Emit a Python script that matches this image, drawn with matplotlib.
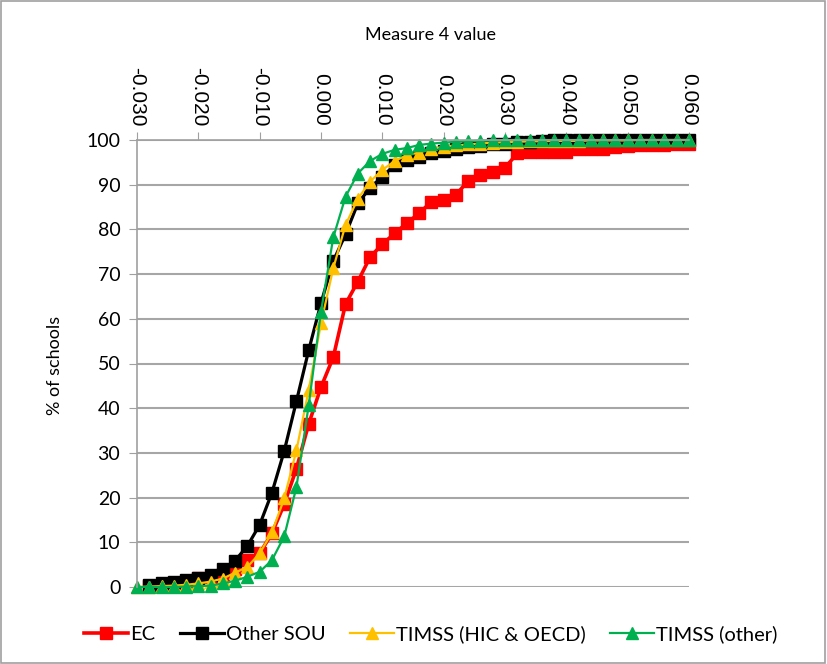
import numpy as np
import matplotlib
matplotlib.use("Agg")
import matplotlib.pyplot as plt
from matplotlib.patches import Rectangle

# x positions: measure 4 value, step 0.002
measure = np.round(np.arange(-0.030, 0.0601, 0.002), 3)

ec = [np.nan, 0.3, 0.5, 0.8, 1.2, 2.0, 2.3, 3.0, 4.0, 6.0,
      7.5, 12.0, 18.5, 26.5, 36.5, 44.7, 51.4, 63.3, 68.3, 73.8,
      76.7, 79.1, 81.4, 83.6, 86.2, 86.6, 87.7, 90.9, 92.2, 92.9,
      93.8, 97.0, 97.4, 97.4, 97.4, 97.4, 97.9, 97.9, 97.9, 98.4,
      98.6, 98.8, 98.8, 98.8, 99.0, 99.0]
other_sou = [np.nan, 0.5, 0.8, 1.2, 1.5, 2.0, 2.7, 4.0, 5.9, 9.2,
             13.9, 21.1, 30.4, 41.6, 53.0, 63.5, 72.9, 78.9, 85.8, 89.3,
             91.8, 94.4, 95.5, 96.3, 97.0, 97.5, 98.0, 98.4, 98.7, 99.0,
             99.2, 99.5, 99.6, 99.8, 100, 100, 100, 100, 100, 100,
             100, 100, 100, 100, 100, 100]
timss_hic = [0.0, 0.1, 0.2, 0.3, 0.5, 0.8, 1.2, 1.9, 3.2, 4.5,
             7.5, 12.2, 19.8, 30.6, 44.1, 59.0, 71.3, 81.0, 86.8, 90.7,
             93.3, 95.3, 96.6, 97.2, 98.0, 98.5, 98.8, 99.0, 99.2, 99.4,
             99.5, 99.6, 99.7, 99.7, 99.8, 99.8, 99.8, 99.9, 99.9, 99.9,
             99.9, 100, 100, 100, 100, 100]
timss_other = [0.0, 0.0, 0.0, 0.0, 0.1, 0.2, 0.3, 0.8, 1.4, 2.3,
               3.4, 6.0, 11.3, 22.4, 40.7, 61.6, 78.2, 87.3, 92.5, 95.3,
               96.9, 97.8, 98.2, 98.9, 99.2, 99.4, 99.6, 99.7, 99.8, 99.9,
               100, 100, 100, 100, 100, 100, 100, 100, 100, 100,
               100, 100, 100, 100, 100, 100]

plt.rcParams['font.family'] = ['Lato', 'DejaVu Sans']

fig = plt.figure(figsize=(8.27, 6.64), dpi=100)
ax = fig.add_axes([137/827, 1-587/664, (689-137)/827, (587-140)/664])

ax.plot(measure, ec, color='#FF0000', lw=2.6, marker='s', ms=9, label='EC', clip_on=False)
ax.plot(measure, other_sou, color='#000000', lw=2.3, marker='s', ms=9, label='Other SOU', clip_on=False)
ax.plot(measure, timss_hic, color='#FFC000', lw=1.6, marker='^', ms=9,
        label='TIMSS (HIC & OECD)', clip_on=False)
ax.plot(measure, timss_other, color='#00B050', lw=1.6, marker='^', ms=9,
        label='TIMSS (other)', clip_on=False)

ax.set_xlim(-0.030, 0.060)
ax.set_ylim(0, 100)
ax.set_yticks(range(0, 101, 10))
ax.set_xticks(np.round(np.arange(-0.030, 0.0601, 0.010), 3))
ax.set_xticklabels(['%.3f' % v for v in np.arange(-0.030, 0.0601, 0.010)],
                   rotation=-90, family='Liberation Sans', fontsize=15)
ax.xaxis.tick_top()
ax.xaxis.set_label_position('top')
ax.tick_params(axis='x', length=6, color='#a0a0a0', pad=4)
ax.tick_params(axis='y', length=6, color='#a0a0a0', labelsize=14, pad=6)
ax.grid(axis='y', color='#a6a6a6', lw=1.5)
ax.set_axisbelow(True)
for s in ['right', 'bottom']:
    ax.spines[s].set_visible(False)
for s in ['left', 'top']:
    ax.spines[s].set_color('#a0a0a0')
    ax.spines[s].set_linewidth(1.2)

fig.text(430/827, 1-35/664, 'Measure 4 value', ha='center', va='center', fontsize=13)
fig.text(55/827, 1-365/664, '% of schools', ha='center', va='center', rotation=90, fontsize=13)

fig.legend(loc='center', bbox_to_anchor=(431/827, 1-634/664), ncol=4, frameon=False,
           fontsize=14.5, handlelength=2.2, columnspacing=1.2, handletextpad=0.1)

fig.patches.append(Rectangle((0.001, 0.001), 0.997, 0.997, transform=fig.transFigure,
                             fill=False, edgecolor='#a0a0a0', lw=1.2))

fig.savefig('out.png', dpi=100)
